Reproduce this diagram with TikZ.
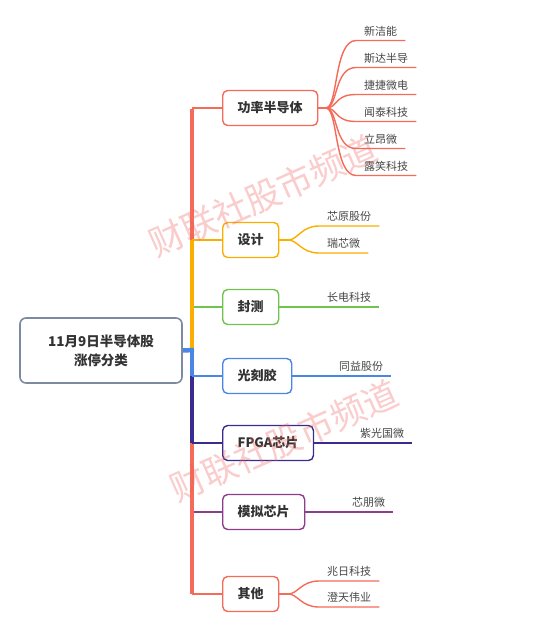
\documentclass[tikz,border=0pt]{standalone}
\usepackage{fontspec}
\setmainfont{Noto Sans CJK SC}
\usetikzlibrary{positioning}
\definecolor{redclr}{RGB}{245,106,88}
\definecolor{orgclr}{RGB}{252,174,0}
\definecolor{grnclr}{RGB}{112,196,78}
\definecolor{bluclr}{RGB}{74,134,228}
\definecolor{indclr}{RGB}{58,44,142}
\definecolor{purclr}{RGB}{140,62,140}
\definecolor{rootclr}{RGB}{125,138,160}
\definecolor{txtclr}{RGB}{51,51,51}
\definecolor{leafclr}{RGB}{70,70,70}
\definecolor{wmclr}{RGB}{240,96,96}
\tikzset{
  topic/.style={rectangle,rounded corners=5pt,line width=1.4pt,fill=white,
                minimum height=35pt,inner xsep=15pt,inner ysep=0pt,anchor=west,
                font=\fontsize{13}{15}\selectfont\bfseries,text=txtclr},
  leaf/.style={inner xsep=8pt,inner ysep=4pt,anchor=south west,
               font=\fontsize{11}{13}\selectfont,text=leafclr},
  spine/.style={line width=4pt},
  twig/.style={line width=1.4pt},
  wmark/.style={rotate=24,font=\fontsize{35}{35}\selectfont,text=wmclr,opacity=0.32},
}
\begin{document}
\begin{tikzpicture}[x=1pt,y=-1pt]
\useasboundingbox (0,0) rectangle (554,638);

% ── root and spine
\node[draw=rootclr,line width=1.6pt,rounded corners=6pt,fill=white,
      minimum width=162pt,minimum height=65pt,align=center,text=txtclr,
      font=\fontsize{13.5}{19}\selectfont\bfseries] (root) at (101,350.5) {11月9日半导体股\\涨停分类};
\coordinate (hub) at (192,350);

% ── main topics
\node[topic,draw=redclr] (power) at (222,108) {功率半导体};
\node[topic,draw=orgclr] (design) at (222,240) {设计};
\node[topic,draw=grnclr] (pack) at (222,307) {封测};
\node[topic,draw=bluclr] (resist) at (222,376) {光刻胶};
\node[topic,draw=indclr] (fpga) at (222,443) {FPGA芯片};
\node[topic,draw=purclr] (analog) at (222,512) {模拟芯片};
\node[topic,draw=redclr] (other) at (222,594) {其他};

% ── upper branches
\draw[spine,redclr] (hub) -- ([yshift=-1pt]hub |- power.west);
\draw[twig,redclr] (hub |- power.west) -- (power.west);
\draw[spine,orgclr] (hub) -- (hub |- design.west);
\draw[twig,orgclr] (hub |- design.west) -- (design.west);
\draw[twig,grnclr] ([xshift=2pt]hub |- pack.west) -- (pack.west);

% ── lower branches
\draw[spine,redclr] (hub) -- (hub |- other.west);
\draw[twig,redclr] (hub |- other.west) -- (other.west);
\draw[spine,indclr] (hub) -- (hub |- fpga.west);
\draw[twig,indclr] (hub |- fpga.west) -- (fpga.west);
\draw[twig,purclr] ([xshift=2pt]hub |- analog.west) -- (analog.west);
\draw[spine,bluclr] (hub) -- (hub |- resist.west);
\draw[twig,bluclr] (hub |- resist.west) -- (resist.west);
\draw[line width=4.5pt,bluclr] (root.east) -- ([xshift=2pt]hub);

% ── 功率半导体 leaves
\coordinate (pfork) at (326,108);
\node[leaf] (xjn) at (356,40.5) {新洁能};
\node[leaf] (sdbd) at (356,67.5) {斯达半导};
\node[leaf] (jjwd) at (356,94.5) {捷捷微电};
\node[leaf] (wtkj) at (356,121.5) {闻泰科技};
\node[leaf] (law) at (356,148.5) {立昂微};
\node[leaf] (lxkj) at (356,175.5) {露笑科技};
\draw[twig,redclr] (power.east) -- (pfork);
\foreach \lf in {xjn,sdbd,jjwd,wtkj,law,lxkj}{
  \draw[twig,redclr] (pfork) .. controls +(12,0) and +(-22,0) .. (\lf.south west) -- (\lf.south east);
}

% ── 设计 leaves
\coordinate (dfork) at (288,240);
\node[leaf] (xygf) at (319,226) {芯原股份};
\node[leaf] (rxw) at (319,253) {瑞芯微};
\draw[twig,orgclr] (design.east) -- (dfork);
\foreach \lf in {xygf,rxw}{
  \draw[twig,orgclr] (dfork) .. controls +(10,0) and +(-18,0) .. (\lf.south west) -- (\lf.south east);
}

% ── single leaves
\node[leaf] (cdkj) at (319,307) {长电科技};
\draw[twig,grnclr] (pack.east) -- (cdkj.south east);
\node[leaf] (tygf) at (331,376) {同益股份};
\draw[twig,bluclr] (resist.east) -- (tygf.south east);
\node[leaf] (zggw) at (352,443) {紫光国微};
\draw[twig,indclr] (fpga.east) -- (zggw.south east);
\node[leaf] (xpw) at (344,512) {芯朋微};
\draw[twig,purclr] (analog.east) -- (xpw.south east);

% ── 其他 leaves
\coordinate (ofork) at (288,594);
\node[leaf] (zrkj) at (319,581) {兆日科技};
\node[leaf] (ctwy) at (319,607) {澄天伟业};
\draw[twig,redclr] (other.east) -- (ofork);
\foreach \lf in {zrkj,ctwy}{
  \draw[twig,redclr] (ofork) .. controls +(10,0) and +(-18,0) .. (\lf.south west) -- (\lf.south east);
}

% ── watermarks
\node[wmark] (wm1) at (263,196) {财联社股市频道};
\node[wmark] (wm2) at (284,441) {财联社股市频道};

\end{tikzpicture}
\end{document}
